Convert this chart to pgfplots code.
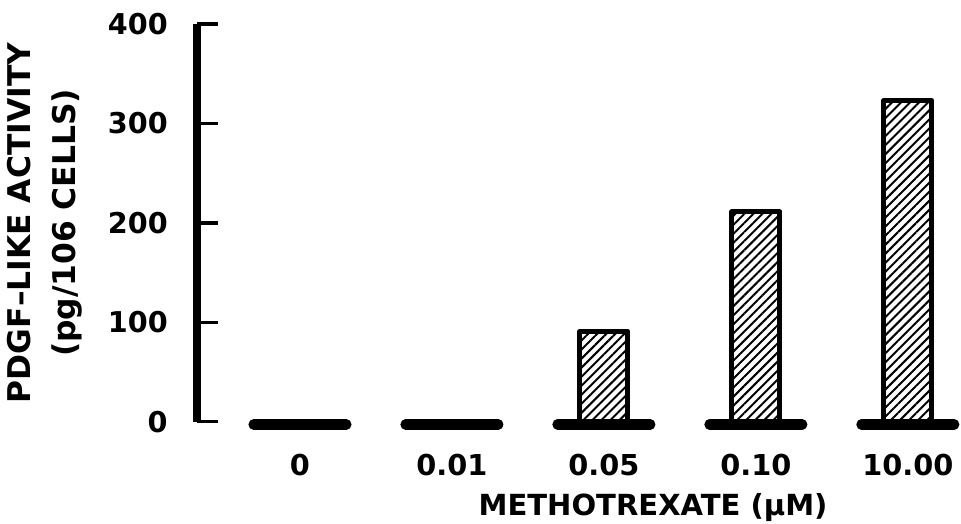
\documentclass[border=0pt]{standalone}
\usepackage{fontspec}
\setmainfont{DejaVu Sans}
\usepackage{pgfplots}
\pgfplotsset{compat=1.18}
\usetikzlibrary{patterns.meta}
\begin{document}
\begin{tikzpicture}
\begin{axis}[
  x=114pt, y=0.74625pt,
  xmin=-0.678, xmax=4.35, ymin=0, ymax=400,
  axis y line=left, axis x line=bottom,
  axis line style={-},
  x axis line style={draw=none},
  y axis line style={line width=5.5pt, -},
  ytick={0,100,200,300,400},
  xtick={0,1,2,3,4},
  xticklabels={0,0.01,0.05,0.10,10.00},
  /pgf/number format/assume math mode=true,
  tick align=inside,
  major tick length=16pt,
  y tick style={line width=2.4pt, black},
  x tick style={draw=none},
  yticklabel style={font=\fontsize{21.5}{21.5}\selectfont\bfseries, anchor=east, inner sep=0pt, xshift=-21.75pt},
  xticklabel style={font=\fontsize{21.6}{21.6}\selectfont\bfseries, anchor=north, inner sep=0pt, yshift=-24pt},
  xlabel={METHOTREXATE (µM)},
  xlabel style={font=\fontsize{21.8}{21.8}\selectfont\bfseries, at={(axis description cs:0.597,0)}, anchor=north, inner sep=0pt, yshift=-53.25pt},
  ylabel={PDGF--LIKE ACTIVITY\\(pg/106 CELLS)},
  ylabel style={font=\fontsize{23.5}{33.75}\selectfont\bfseries, align=center, at={(axis description cs:-0.1493,0.5)}, anchor=south, inner sep=0pt},
  clip=false,
]
\addplot[ybar, bar width=0.316, draw=black, line width=3.75pt, line join=round,
  pattern={Lines[angle=45, distance=4.8pt, line width=1.5pt]}]
  coordinates {(0,0) (1,0) (2,91) (3,211) (4,323)};
\addplot[black, line width=7.8pt, line cap=round, unbounded coords=jump, mark=none]
  coordinates {(-0.305,-2.6) (0.305,-2.6) (0.5,nan)
               (0.695,-2.6) (1.305,-2.6) (1.5,nan)
               (1.695,-2.6) (2.305,-2.6) (2.5,nan)
               (2.695,-2.6) (3.305,-2.6) (3.5,nan)
               (3.695,-2.6) (4.305,-2.6)};
\coordinate (bl) at (axis cs:-0.678,0);
\coordinate (tr) at (axis cs:4.35,400);
\end{axis}
\pgfresetboundingbox
\path[use as bounding box] ([shift={(-147.75pt,-76.5pt)}]bl) rectangle ([shift={(0pt,18pt)}]tr);
\end{tikzpicture}
\end{document}
